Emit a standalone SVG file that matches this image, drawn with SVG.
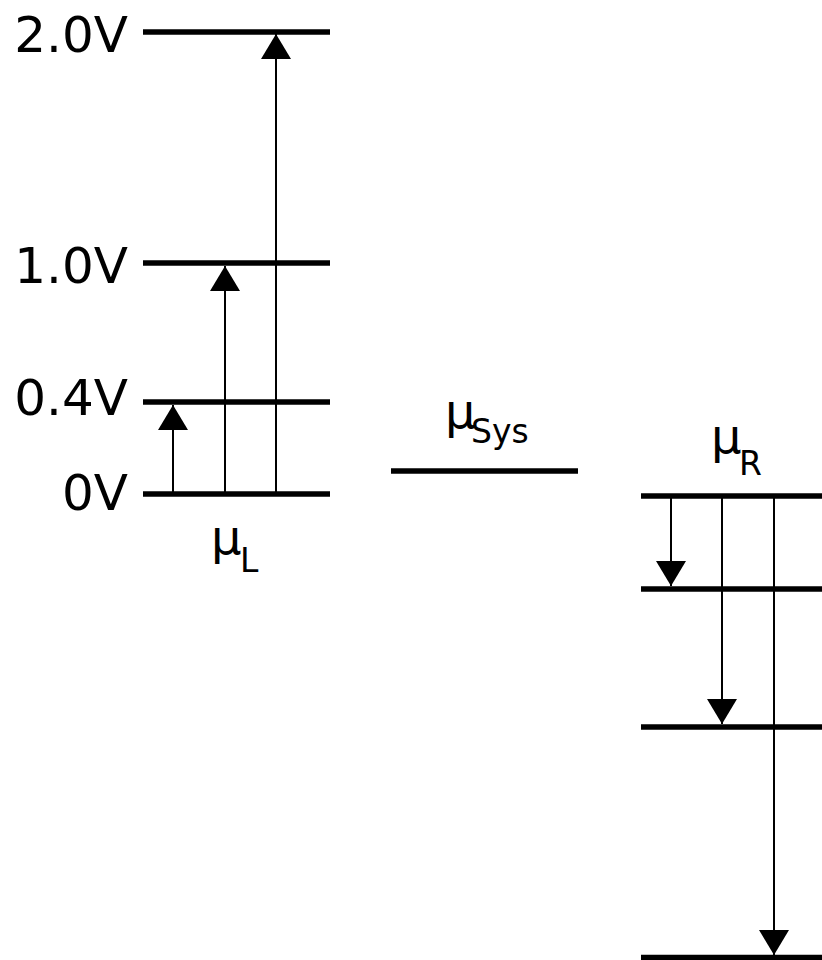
<svg xmlns="http://www.w3.org/2000/svg" width="822" height="960" viewBox="0 0 822 960">
<style>
.lvl{stroke:#000;stroke-width:5.5;fill:none}
.arr{stroke:#000;stroke-width:2;fill:none;marker-end:url(#head)}
.lbl{font-family:"DejaVu Sans","Liberation Sans",sans-serif;font-size:50px;fill:#000}
.mu{font-family:"DejaVu Sans","Liberation Sans",sans-serif;font-size:48px;fill:#000}
.sub{font-size:33px}
</style>
<defs>
<marker id="head" viewBox="0 0 25 30" markerWidth="25" markerHeight="30" refX="25" refY="15" orient="auto" markerUnits="userSpaceOnUse">
<path d="M0,0 L25,15 L0,30 Z" fill="#000"/>
</marker>
</defs>
<rect width="822" height="960" fill="#fff"/>
<g id="level-L-2.0V">
<line class="lvl" x1="143" y1="32" x2="330" y2="32"/>
<text class="lbl" x="128" y="52" text-anchor="end">2.0V</text>
</g>
<g id="level-L-1.0V">
<line class="lvl" x1="143" y1="263" x2="330" y2="263"/>
<text class="lbl" x="128" y="283" text-anchor="end">1.0V</text>
</g>
<g id="level-L-0.4V">
<line class="lvl" x1="143" y1="402" x2="330" y2="402"/>
<text class="lbl" x="128" y="415" text-anchor="end">0.4V</text>
</g>
<g id="level-L-0V">
<line class="lvl" x1="143" y1="494" x2="330" y2="494"/>
<text class="lbl" x="128" y="510" text-anchor="end">0V</text>
</g>
<g id="label-muL">
<text class="mu" x="211" y="554">μ<tspan class="sub" x="240" y="572">L</tspan></text>
</g>
<g id="level-Sys">
<line class="lvl" x1="391" y1="471" x2="578" y2="471"/>
<text class="mu" x="445" y="428">μ<tspan class="sub" x="471" y="443">Sys</tspan></text>
</g>
<g id="label-muR">
<text class="mu" x="711" y="453">μ<tspan class="sub" x="739" y="475">R</tspan></text>
</g>
<g id="level-R-0">
<line class="lvl" x1="641" y1="496" x2="822" y2="496"/>
</g>
<g id="level-R-1">
<line class="lvl" x1="641" y1="589" x2="822" y2="589"/>
</g>
<g id="level-R-2">
<line class="lvl" x1="641" y1="727" x2="822" y2="727"/>
</g>
<g id="level-R-3">
<line class="lvl" x1="641" y1="957.5" x2="822" y2="957.5"/>
</g>
<g id="connectors">
<line class="arr" x1="173" y1="494" x2="173" y2="405"/>
<line class="arr" x1="225" y1="496" x2="225" y2="266"/>
<line class="arr" x1="276" y1="496" x2="276" y2="34"/>
<line class="arr" x1="671" y1="496" x2="671" y2="586"/>
<line class="arr" x1="722" y1="494" x2="722" y2="724"/>
<line class="arr" x1="774" y1="494" x2="774" y2="955"/>
</g>
</svg>
